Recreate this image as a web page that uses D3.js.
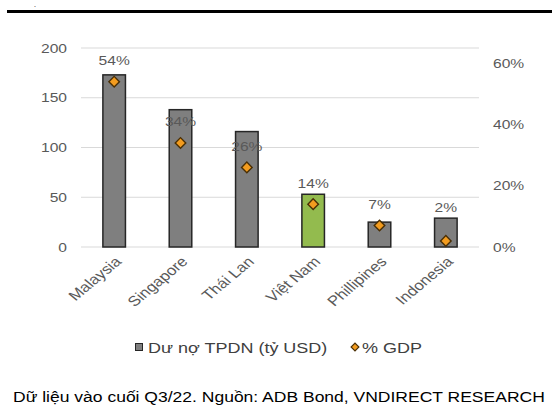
<!DOCTYPE html>
<html>
<head>
<meta charset="utf-8">
<script src="https://cdn.jsdelivr.net/npm/d3@7"></script>
<style>
  body { margin: 0; background: #fff; }
  text { font-family: "Liberation Sans", Arial, sans-serif; }
</style>
</head>
<body>
<script>
const countries = ["Malaysia", "Singapore", "Thái Lan", "Việt Nam", "Phillipines", "Indonesia"]
const debt = [173, 138, 116, 53, 25, 29]
const gdpPct = [0.54, 0.34, 0.26, 0.14, 0.07, 0.02]
const gdpLabels = ["54%", "34%", "26%", "14%", "7%", "2%"]
const leftTicks = [0, 50, 100, 150, 200]
const rightTicks = [0, 0.2, 0.4, 0.6]
const legendNames = ["Dư nợ TPDN (tỷ USD)", "% GDP"]
const note = "Dữ liệu vào cuối Q3/22. Nguồn: ADB Bond, VNDIRECT RESEARCH"

const W = 552, H = 406
const SX = 1.2 // the picture is a bit stretched sideways
const grey = "#595959"

const svg = d3.select("body").append("svg")
    .attr("width", W)
    .attr("height", H)

// top rule
svg.append("text").attr("x", 34).attr("y", 7).attr("font-size", 7).text(".")
svg.append("rect").attr("x", 7).attr("y", 10).attr("width", W - 7).attr("height", 3).attr("fill", "#000")

const x = d3.scaleBand().domain(countries).range([81, 479]).paddingInner(0.66).paddingOuter(0.33)
const yL = d3.scaleLinear().domain([0, 200]).range([247, 48])
const yR = d3.scaleLinear().domain([0, 0.65]).range([247, 48])

// grid
svg.append("g").selectAll("line")
    .data(leftTicks)
    .enter()
    .append("line")
    .attr("x1", 81).attr("x2", 479)
    .attr("y1", d => yL(d)).attr("y2", d => yL(d))
    .attr("stroke", "#d9d9d9")
    .attr("stroke-width", 1)

function styleAxis(g, pad, anchor) {
    g.select(".domain").remove()
    g.selectAll(".tick line").remove()
    g.selectAll(".tick text")
        .attr("fill", grey)
        .attr("font-size", 13)
        .attr("text-anchor", anchor)
        .attr("x", pad / SX)
        .attr("transform", `scale(${SX},1)`)
}

svg.append("g")
    .attr("transform", "translate(81,0)")
    .call(d3.axisLeft(yL).tickValues(leftTicks))
    .call(g => styleAxis(g, -14, "end"))

svg.append("g")
    .attr("transform", "translate(479,0)")
    .call(d3.axisRight(yR).tickValues(rightTicks).tickFormat(d3.format(".0%")))
    .call(g => styleAxis(g, 14, "start"))

// bars
svg.selectAll(".bar")
    .data(countries)
    .enter()
    .append("rect")
    .attr("class", "bar")
    .attr("x", d => x(d))
    .attr("width", x.bandwidth())
    .attr("y", (d, i) => yL(debt[i]))
    .attr("height", (d, i) => yL(0) - yL(debt[i]))
    .attr("fill", d => d == "Việt Nam" ? "#93bb4e" : "#7f7f7f")
    .attr("stroke", "#262626")
    .attr("stroke-width", 1.5)

// diamonds
const diamond = d3.symbol().type(d3.symbolSquare).size(56)
svg.selectAll(".pt")
    .data(countries)
    .enter()
    .append("path")
    .attr("class", "pt")
    .attr("d", diamond)
    .attr("transform", (d, i) => `translate(${x(d) + x.bandwidth() / 2},${yR(gdpPct[i])}) rotate(45)`)
    .attr("fill", "#f39c1f")
    .attr("stroke", "#4a2f05")
    .attr("stroke-width", 1.4)

// data labels - the last one was lifted above its bar
function labelY(i) {
    let y = yR(gdpPct[i]) - 16.5
    if (i == countries.length - 1) y = Math.min(y, yL(debt[i]) - 6)
    return y
}
svg.selectAll(".lbl")
    .data(countries)
    .enter()
    .append("text")
    .attr("class", "lbl")
    .attr("transform", (d, i) => `translate(${x(d) + x.bandwidth() / 2},${labelY(i)}) scale(${SX},1)`)
    .attr("text-anchor", "middle")
    .attr("font-size", 13)
    .attr("fill", grey)
    .text((d, i) => gdpLabels[i])

// category labels
svg.selectAll(".cat")
    .data(countries)
    .enter()
    .append("text")
    .attr("class", "cat")
    .attr("transform", d => `translate(${x(d) + x.bandwidth() / 2 + 4},${259}) scale(${SX},1) rotate(-45)`)
    .attr("text-anchor", "end")
    .attr("dy", "0.35em")
    .attr("font-size", 14)
    .attr("fill", grey)
    .text(d => d)

// legend
const lg = svg.append("g")
lg.append("rect").attr("x", 135.5).attr("y", 343.5).attr("width", 7).attr("height", 7)
    .attr("fill", "#7f7f7f").attr("stroke", "#262626").attr("stroke-width", 1)
lg.append("text")
    .attr("transform", `translate(148,352.5) scale(${SX},1)`)
    .attr("font-size", 15).attr("fill", "#404040")
    .text(legendNames[0])
lg.append("path").attr("d", d3.symbol().type(d3.symbolSquare).size(30))
    .attr("transform", "translate(355,347) rotate(45)")
    .attr("fill", "#f39c1f").attr("stroke", "#4a2f05").attr("stroke-width", 1.2)
lg.append("text")
    .attr("transform", `translate(362,352.5) scale(${SX},1)`)
    .attr("font-size", 15).attr("fill", "#404040")
    .text(legendNames[1])

// footnote
svg.append("text")
    .attr("transform", `translate(13,401.5) scale(${SX},1)`)
    .attr("font-size", 14.6)
    .attr("fill", "#000")
    .text(note)
</script>
</body>
</html>
